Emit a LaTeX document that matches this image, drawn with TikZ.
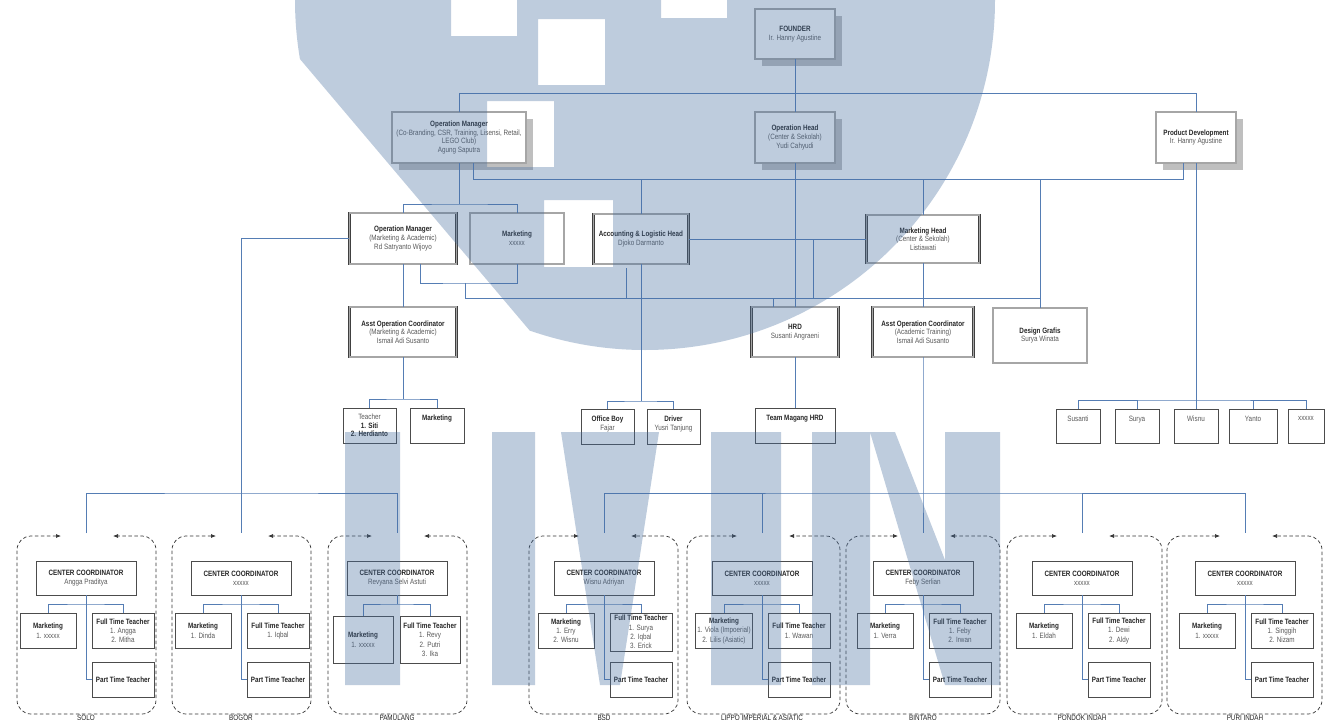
\documentclass[tikz,border=0pt]{standalone}
\usepackage{fontspec}
\setmainfont[FakeStretch=0.82]{Liberation Sans}
\usetikzlibrary{shadows,arrows.meta}
\definecolor{conn}{RGB}{85,125,180}
\definecolor{wm}{RGB}{70,110,160}
\newcommand\tl[1]{{\bfseries\color{black!85}#1}}
\tikzset{
  every node/.style={font=\fontsize{7.7}{8.7}\selectfont, text=black!65},
  bigbox/.style={draw=black!75, double=black!35, double distance=1.3pt, line width=0.5pt, fill=white, align=center, inner sep=2pt},
  shad/.style={drop shadow={shadow xshift=7pt, shadow yshift=-7pt, fill=black!25, opacity=1}},
  sbox/.style={draw=black!70, line width=0.6pt, fill=white, align=center, inner sep=2pt},
  gbox/.style={sbox, font=\fontsize{7.7}{9.3}\selectfont},
  ttop/.style={label={[anchor=north, yshift=-4pt, align=center, text=black!65]north:{#1}}},
  conn/.style={draw=conn, line width=0.7pt},
  grpbox/.style={draw=black!80, line width=0.7pt, dash pattern=on 3.5pt off 2.5pt, rounded corners=14pt, {Latex[length=5pt,width=4pt]}-{Latex[length=5pt,width=4pt]}},
  lab/.style={anchor=base, text=black!85},
  wmark/.style={fill=wm, fill opacity=0.35},
}
\newcommand\grp[9]{%
  \coordinate (#1top) at (#4,533);
  \draw[grpbox] (#4-25,536) -- (#2,536) -- (#2,714) -- (#3,714) -- (#3,536) -- (#4+27,536);
  \node[gbox,minimum width=100,minimum height=34] (#1cc) at (#4,578) {\tl{CENTER COORDINATOR}\\#6};
  \ifnum#9=1
    \node[gbox,anchor=north,minimum width=56,minimum height=35] (#1mk) at (#4-38,613) {\tl{Marketing}\\#7};
    \node[gbox,anchor=north,minimum width=62,minimum height=35] (#1ft) at (#4+37,613) {\tl{Full Time Teacher}\\#8};
    \node[gbox,minimum width=62,minimum height=35] (#1pt) at (#4+37,679.5) {\tl{Part Time Teacher}};
    \draw[conn] (#1cc.south) |- (#1pt.west);
  \else
    \node[gbox,anchor=north,minimum width=60,minimum height=47] (#1mk) at (#4-34,616) {\tl{Marketing}\\#7};
    \node[gbox,anchor=north,minimum width=60,minimum height=47] (#1ft) at (#4+33,616) {\tl{Full Time Teacher}\\#8};
    \draw[conn] (#1cc.south) -- (#4,604);
  \fi
  \draw[conn] (#1mk.north) |- (#4,604) -| (#1ft.north);
  \node[lab] at (#4,720.5) {#5};
}
\begin{document}
\begin{tikzpicture}[x=1pt,y=-1pt]
\useasboundingbox (0,0) rectangle (1326,720);
\fill[white] (0,0) rectangle (1326,720);

% ---------- top level ----------
\node[bigbox,shad,minimum width=80,minimum height=50] (founder) at (795,34) {\tl{FOUNDER}\\Ir. Hanny Agustine};
\node[bigbox,shad,minimum width=134,minimum height=51] (opmgr) at (459,137.5) {\tl{Operation Manager}\\(Co-Branding, CSR, Training, Lisensi, Retail,\\LEGO Club)\\Agung Saputra};
\node[bigbox,shad,minimum width=80,minimum height=51] (ophead) at (795,137.5) {\tl{Operation Head}\\(Center \& Sekolah)\\Yudi Cahyudi};
\node[bigbox,shad,minimum width=80,minimum height=51] (proddev) at (1196,137.5) {\tl{Product Development}\\Ir. Hanny Agustine};

% ---------- second level ----------
\node[bigbox,minimum width=107,minimum height=51] (opmgr2) at (403,238.5) {\tl{Operation Manager}\\(Marketing \& Academic)\\Rd Satryanto Wijoyo};
\node[bigbox,minimum width=94,minimum height=51] (mkt) at (517,238.5) {\tl{Marketing}\\xxxxx};
\node[bigbox,minimum width=95,minimum height=50] (acct) at (641,239) {\tl{Accounting \& Logistic Head}\\Djoko Darmanto};
\node[bigbox,minimum width=113,minimum height=48] (mkthead) at (923,239) {\tl{Marketing Head}\\(Center \& Sekolah)\\Listiawati};

% ---------- third level ----------
\node[bigbox,minimum width=107,minimum height=50] (asst1) at (403,332) {\tl{Asst Operation Coordinator}\\(Marketing \& Academic)\\Ismail Adi Susanto};
\node[bigbox,minimum width=87,minimum height=50] (hrd) at (795,332) {\tl{HRD}\\Susanti Angraeni};
\node[bigbox,minimum width=101,minimum height=50] (asst2) at (923,332) {\tl{Asst Operation Coordinator}\\(Academic Training)\\Ismail Adi Susanto};
\node[bigbox,minimum width=94,minimum height=55] (design) at (1040,335.5) {\tl{Design Grafis}\\Surya Winata};

% ---------- fourth level ----------
\node[sbox,minimum width=53,minimum height=35] (teacher) at (369.5,425.5) {Teacher\\\tl{1. Siti}\\\tl{2. Herdianto}};
\node[sbox,minimum width=54,minimum height=35,ttop={\tl{Marketing}}] (mkt4) at (437,425.5) {};
\node[sbox,minimum width=53,minimum height=35,ttop={\tl{Office Boy}\\Fajar}] (officeboy) at (607.5,426.5) {};
\node[sbox,minimum width=53,minimum height=35,ttop={\tl{Driver}\\Yusri Tanjung}] (driver) at (673.5,426.5) {};
\node[sbox,minimum width=80,minimum height=35,ttop={\tl{Team Magang HRD}}] (magang) at (795,425.5) {};
\node[sbox,minimum width=44,minimum height=34,ttop={Susanti}] (susanti) at (1078,426) {};
\node[sbox,minimum width=44,minimum height=34,ttop={Surya}] (surya) at (1137,426) {};
\node[sbox,minimum width=44,minimum height=34,ttop={Wisnu}] (wisnu) at (1196,426) {};
\node[sbox,minimum width=48,minimum height=34,ttop={Yanto}] (yanto) at (1253,426) {};
\node[sbox,minimum width=36,minimum height=34,ttop={xxxxx}] (xx) at (1306,426) {};

% ---------- centers ----------
\grp{solo}{17}{156}{86}{SOLO}{Angga Praditya}{1. xxxxx}{1. Angga\\2. Mitha}{1}
\grp{bog}{172}{311}{241}{BOGOR}{xxxxx}{1. Dinda}{1. Iqbal}{1}
\grp{pam}{328}{467}{397}{PAMULANG}{Revyana Selvi Astuti}{1. xxxxx}{1. Revy\\2. Putri\\3. Ika}{0}
\grp{bsd}{529}{678}{604}{BSD}{Wisnu Adriyan}{1. Erry\\2. Wisnu}{1. Surya\\2. Iqbal\\3. Erick}{1}
\grp{lip}{687}{840}{762}{LIPPO IMPERIAL \& ASIATIC}{xxxxx}{1. Viola (Impoerial)\\2. Lilis (Asiatic)}{1. Wawan}{1}
\grp{bin}{846}{1000}{923}{BINTARO}{Feby Serlian}{1. Verra}{1. Feby\\2. Irwan}{1}
\grp{pon}{1007}{1162}{1082}{PONDOK INDAH}{xxxxx}{1. Eldah}{1. Dewi\\2. Aldy}{1}
\grp{pur}{1167}{1322}{1245}{PURI INDAH}{xxxxx}{1. xxxxx}{1. Singgih\\2. Nizam}{1}

% ---------- connectors ----------
\coordinate (t1) at (459,93);
\draw[conn] (founder.south) -- (ophead.north);
\draw[conn] (opmgr.north) -- (t1) -| (proddev.north);
\coordinate (h2l) at (473,179);
\coordinate (h2r) at (1183,179);
\draw[conn] (opmgr.south -| h2l) -- (h2l) -- (h2r) -- (proddev.south -| h2r);
\draw[conn] (acct.north |- h2l) -- (acct.north);
\draw[conn] (mkthead.north |- h2l) -- (mkthead.north);
\draw[conn] (design.north |- h2l) -- (design.north);
\draw[conn] (ophead.south) -- (hrd.north);
\coordinate (h3) at (459,204);
\draw[conn] (opmgr.south) -- (h3);
\draw[conn] (opmgr2.north) |- (h3) -| (mkt.north);
\coordinate (vL) at (241,493);
\draw[conn] (opmgr2.west) -| (vL);
\draw[conn] (solotop) |- (vL) -| (pamtop);
\draw[conn] (vL) -- (bogtop);
\draw[conn] (acct.east) -- (mkthead.west);
\coordinate (a1) at (813,239);
\coordinate (a2) at (813,298);
\draw[conn] (a1) -- (a2);
\coordinate (h4l) at (465,298);
\coordinate (h4r) at (1040,298);
\draw[conn] (h4l) -- (h4r);
\coordinate (h5) at (465,283);
\draw[conn] (h4l) -- (h5);
\draw[conn] ([xshift=17pt]opmgr2.south) |- (h5) -| (mkt.south);
\coordinate (s1) at (626,268);
\coordinate (s2) at (626,298);
\draw[conn] (s1) -- (s2);
\coordinate (s3) at (773,298);
\draw[conn] (s3) -- (s3 |- hrd.north);
\coordinate (ob) at (641,401);
\draw[conn] (acct.south) -- (ob);
\draw[conn] (officeboy.north) |- (ob) -| (driver.north);
\draw[conn] (opmgr2.south) -- (asst1.north);
\coordinate (tm) at (403,399);
\draw[conn] (asst1.south) -- (tm);
\draw[conn] (teacher.north) |- (tm) -| (mkt4.north);
\draw[conn] (mkthead.south) -- (asst2.north);
\coordinate (vR) at (923,493);
\draw[conn] (asst2.south) -- (vR) -- (bintop);
\draw[conn] (bsdtop) |- (vR) -| (purtop);
\draw[conn] (liptop) -- (liptop |- vR);
\draw[conn] (pontop) -- (pontop |- vR);
\draw[conn] (hrd.south) -- (magang.north);
\coordinate (pd) at (1196,400);
\draw[conn] (proddev.south) -- (pd) -- (wisnu.north);
\draw[conn] (susanti.north) |- (pd) -| (xx.north);
\draw[conn] (surya.north) -- (surya.north |- pd);
\draw[conn] (yanto.north) -- (yanto.north |- pd);

% ---------- watermark ----------
\begin{scope}
  \clip (-190,-520) -- (690,520) -- (1400,520) -- (1400,-520) -- cycle;
  \fill[wmark, even odd rule] (645,0) circle[radius=350]
    (451,-5) rectangle (517,36) (538,19) rectangle (605,85) (661,-5) rectangle (727,18)
    (487,101) rectangle (554,167) (544,200) rectangle (613,267);
\end{scope}
\fill[wmark]
  (345,432) -- (345,685) -- (400,685) -- (400,432) -- cycle
  (492,432) -- (492,685) -- (535,685) -- (535,432) -- cycle
  (561,432) -- (600,685) -- (620,685) -- (659,432) -- cycle
  (711,432) -- (711,685) -- (781,685) -- (781,432) -- cycle
  (812,432) -- (812,685) -- (870,685) -- (870,432) -- cycle
  (870,432) -- (945,685) -- (945,560) -- (895,432) -- cycle
  (945,432) -- (945,685) -- (1000,685) -- (1000,432) -- cycle;
\end{tikzpicture}
\end{document}
